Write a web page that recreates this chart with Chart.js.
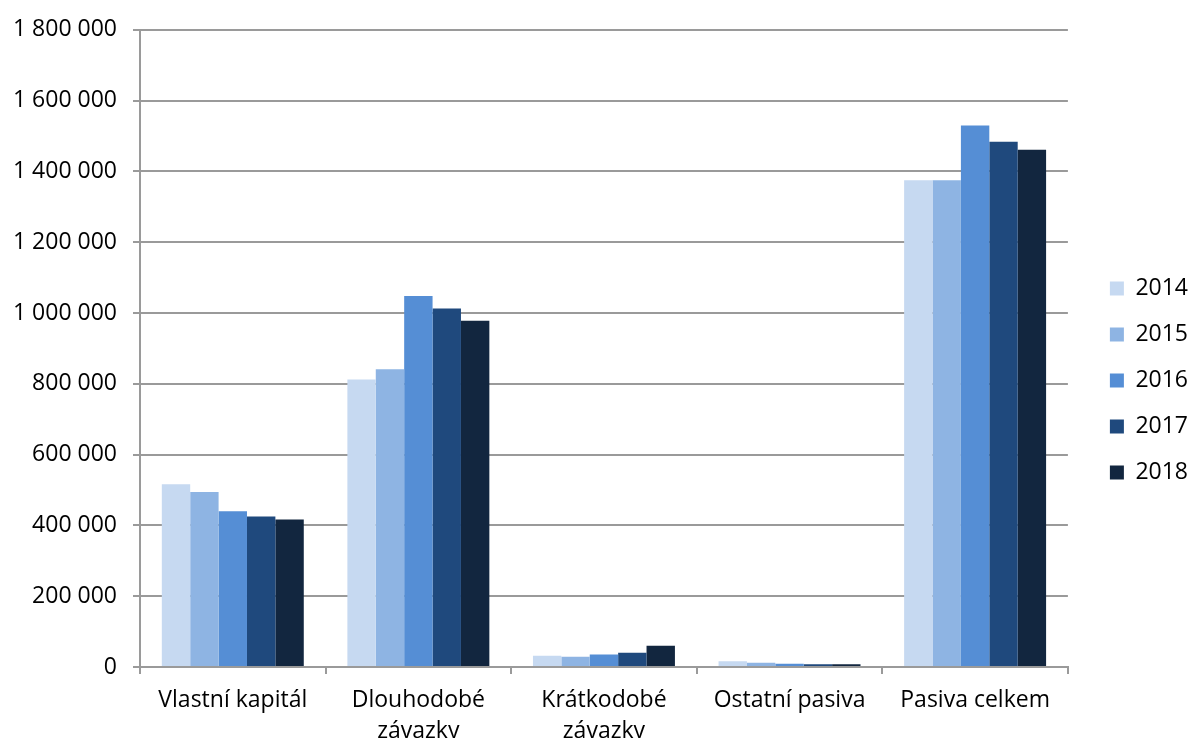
<!DOCTYPE html>
<html>
<head>
<meta charset="utf-8">
<script src="https://cdn.jsdelivr.net/npm/chart.js@4/dist/chart.umd.min.js"></script>
<style>
  body { margin: 0; background: #fff; }
</style>
</head>
<body>
<canvas id="grafPasiva" width="1188" height="738"></canvas>
<script>
const kategorie = [
  "Vlastní kapitál",
  ["Dlouhodobé", "závazky"],
  ["Krátkodobé", "závazky"],
  "Ostatní pasiva",
  "Pasiva celkem",
];
const roky = ["2014", "2015", "2016", "2017", "2018"];

const hodnoty2014 = [516000, 812000, 32000, 16000, 1375000];
const hodnoty2015 = [494000, 841000, 29000, 12000, 1375000];
const hodnoty2016 = [440000, 1048000, 35000, 9000, 1530000];
const hodnoty2017 = [425000, 1013000, 40000, 8000, 1484000];
const hodnoty2018 = [417000, 978000, 60000, 8000, 1461000];

const osaYMax = 1800000;
const osaYKrok = 200000;

const barvy = ["#c6d9f1", "#8eb4e3", "#558ed5", "#1f497d", "#12263f"];
const rady = [hodnoty2014, hodnoty2015, hodnoty2016, hodnoty2017, hodnoty2018];

function formatCisla(v) {
  return String(v).replace(/\B(?=(\d{3})+(?!\d))/g, " ");
}

const pismo = { family: "'Open Sans', sans-serif", size: 23 };
const seda = "#9a9a9a";

// posune legendu trochu doprava a dolu
const posunLegendy = {
  id: "posunLegendy",
  afterLayout(chart) {
    const lg = chart.legend;
    lg.left += 10;
    lg.right += 10;
    lg.top += 4;
    lg.bottom += 4;
  },
};

const grafPasiva = document.getElementById("grafPasiva");

const chart = new Chart(grafPasiva, {
  type: "bar",
  data: {
    labels: kategorie,
    datasets: rady.map((data, i) => ({
      label: roky[i],
      data: data,
      backgroundColor: barvy[i],
      borderWidth: 0,
      barPercentage: 1,
      categoryPercentage: 0.765,
      xAxisID: "x",
      yAxisID: "y",
    })),
  },
  options: {
    responsive: false,
    animation: false,
    devicePixelRatio: 1,
    layout: { padding: { top: 15, left: 0, right: 0, bottom: 0 } },
    plugins: {
      tooltip: { enabled: false },
      legend: {
        position: "right",
        labels: {
          boxWidth: 14,
          boxHeight: 14,
          padding: 23,
          color: "#000",
          font: pismo,
        },
      },
    },
    scales: {
      x: {
        grid: {
          offset: true,
          drawOnChartArea: false,
          drawTicks: true,
          tickLength: 7,
          color: seda,
          lineWidth: 2,
        },
        border: { color: seda, width: 2 },
        ticks: {
          color: "#000",
          font: { ...pismo, lineHeight: 1.35 },
          padding: 11,
          maxRotation: 0,
          autoSkip: false,
        },
        afterFit: (scale) => {
          scale.height = 71;
        },
      },
      y: {
        min: 0,
        max: osaYMax,
        grid: {
          color: seda,
          lineWidth: 2,
          tickLength: 7,
        },
        border: { color: seda, width: 2 },
        ticks: {
          stepSize: osaYKrok,
          color: "#000",
          font: pismo,
          padding: 16,
          callback: (v) => formatCisla(v),
        },
        afterFit: (scale) => {
          scale.width = 140;
        },
      },
      // prazdna osa jen kvuli mezere pred legendou
      mezera: {
        position: "right",
        display: true,
        grid: { display: false },
        border: { display: false },
        ticks: { display: false },
        afterFit: (scale) => {
          scale.width = 9;
        },
      },
    },
  },
  plugins: [posunLegendy],
});
</script>
</body>
</html>
